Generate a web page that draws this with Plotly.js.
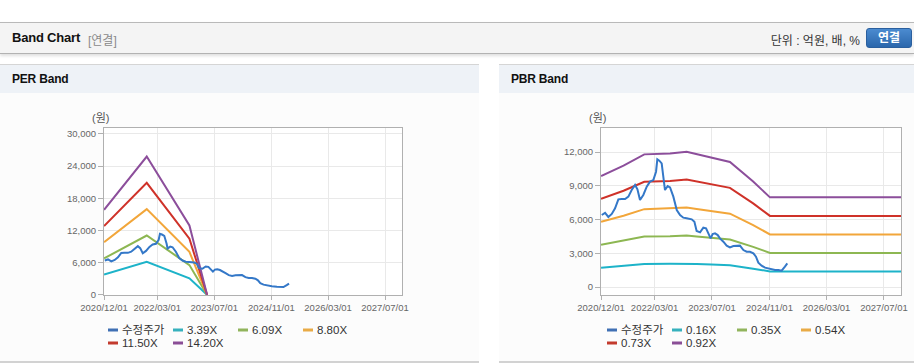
<!DOCTYPE html>
<html><head><meta charset="utf-8">
<script src="https://cdn.plot.ly/plotly-3.0.1.min.js"></script>
<style>
html,body{margin:0;padding:0}
body{width:914px;height:364px;overflow:hidden;background:#fff;position:relative;font-family:"Liberation Sans",Arial,"Noto Sans CJK KR",sans-serif}
#hdr{position:absolute;left:0;top:22px;width:914px;height:30px;background:#f4f4f4;border-top:1px solid #b9b9b9;border-bottom:1px solid #b2b2b2;box-shadow:0 2px 3px rgba(0,0,0,0.13)}
#hdr .t{position:absolute;left:12px;top:7px;font-weight:bold;font-size:13px;color:#111;letter-spacing:-0.2px}
#hdr .s{position:absolute;left:88px;top:8px;font-size:12px;color:#8a8a8a}
#hdr .u{position:absolute;right:54px;top:8px;font-size:12px;color:#333}
#hdr .b{position:absolute;left:866px;top:5px;width:44px;height:18px;border:1px solid #2a5f9e;border-radius:3px;background:linear-gradient(#4b8bd0,#2b67ac);color:#fff;font-weight:bold;font-size:12px;text-align:center;line-height:18px}
.panel{position:absolute;top:64px;height:296px;background:#fcfcfc;border-top:1px solid #d5d5d5;border-bottom:2px solid #d2d2d2}
.panel .bar{position:absolute;left:0;top:0;right:0;height:28px;background:#eef2f7}
.panel .bar span{position:absolute;left:12px;top:7px;font-weight:bold;font-size:12px;color:#111;letter-spacing:-0.2px}
.chart{position:absolute;top:94px;height:268px}
</style>
</head><body>
<div id="hdr"><span class="t">Band Chart</span><span class="s">[연결]</span><span class="u">단위 : 억원, 배, %</span><div class="b">연결</div></div>
<div class="panel" style="left:0;width:479px"><div class="bar"><span>PER Band</span></div></div>
<div class="panel" style="left:499px;width:415px"><div class="bar"><span>PBR Band</span></div></div>
<div id="per" class="chart" style="left:0;width:479px"></div>
<div id="pbr" class="chart" style="left:499px;width:415px"></div>
<script>
// ---- data ----
const priceDates = ['2020-12-07','2021-01-04','2021-02-01','2021-03-02','2021-03-30','2021-04-27','2021-05-25','2021-06-23','2021-07-21','2021-08-18','2021-09-16','2021-10-06','2021-10-28','2021-11-25','2021-12-24','2022-01-21','2022-02-18','2022-03-13','2022-03-24','2022-04-10','2022-04-30','2022-05-20','2022-05-28','2022-06-20','2022-07-10','2022-08-07','2022-09-05','2022-10-03','2022-10-31','2022-11-28','2023-01-10','2023-02-02','2023-02-21','2023-03-22','2023-04-19','2023-05-12','2023-05-31','2023-06-20','2023-07-07','2023-07-27','2023-08-19','2023-09-07','2023-10-06','2023-11-03','2023-12-01','2023-12-30','2024-02-24','2024-03-24','2024-04-21','2024-05-19','2024-06-17','2024-07-09','2024-07-29','2024-08-26','2024-09-24','2024-11-05','2024-12-18','2025-01-15','2025-02-12','2025-03-12','2025-04-01'];
const priceVals = [6410,6600,6230,6500,7000,7800,7830,7830,8040,8630,9080,8700,7740,8190,8930,9380,9520,10260,11360,11240,11000,9520,8630,8990,8870,8040,6850,6400,6170,6110,6020,5810,4980,4860,5280,5220,4830,4330,4710,4770,4620,4330,4030,3680,3530,3650,3680,3290,3140,3140,3000,2700,2170,1900,1720,1600,1510,1510,1450,1810,2100];

const perDates = ['2020-12-01','2021-12-01','2022-12-01','2023-05-01'];
const perEps = [1115,1815,910,0];
const perMultiples = [3.39,6.09,8.80,11.50,14.20];
const perNames = ['수정주가','3.39X','6.09X','8.80X','11.50X','14.20X'];

const pbrDates = ['2020-12-01','2021-06-10','2021-12-03','2022-07-10','2022-11-28','2023-02-21','2023-06-27','2023-09-07','2023-12-01','2024-06-15','2024-11-05','2027-12-31'];
const pbrBps = [10740,11740,12830,12920,13090,12860,12530,12280,12090,10200,8670,8670];
const pbrMultiples = [0.16,0.35,0.54,0.73,0.92];
const pbrNames = ['수정주가','0.16X','0.35X','0.54X','0.73X','0.92X'];

const xTickVals = ['2020-12-01','2022-03-01','2023-07-01','2024-11-01','2026-03-01','2027-07-01'];
const xTickText = ['2020/12/01','2022/03/01','2023/07/01','2024/11/01','2026/03/01','2027/07/01'];

// ---- styling ----
const lineColors = ['#3478c8','#1db3c9','#8db752','#f2a63a','#cf3229','#8c4e9b'];
const legColors  = ['#4070b4','#36b1bd','#91b45c','#e9ab46','#c33b2e','#8a4e96'];
const FONT = '"Liberation Sans", Arial, "Noto Sans CJK KR", sans-serif';

function makeChart(divId, divLeft, W, m, base, baseDates, mults, names, yRange, dtick, legCols, unitX) {
  const H = 268, TOP = 94;
  const pw = W - m.l - m.r, ph = H - m.t - m.b;
  const fx = px => (px - divLeft - m.l) / pw;
  const fy = py => 1 - (py - TOP - m.t) / ph;
  const traces = [];
  mults.forEach((k, i) => {
    traces.push({x: baseDates, y: base.map(v => v * k), type: 'scatter', mode: 'lines',
      line: {color: lineColors[i + 1], width: 2}, name: names[i + 1], hoverinfo: 'skip'});
  });
  traces.push({x: priceDates, y: priceVals, type: 'scatter', mode: 'lines',
    line: {color: lineColors[0], width: 2}, name: names[0], hoverinfo: 'skip'});

  const shapes = [], ann = [];
  const rows = [330, 343];
  names.forEach((n, i) => {
    const c = i % 4, r = Math.floor(i / 4);
    const x0 = legCols[c], y = rows[r];
    shapes.push({type: 'line', xref: 'paper', yref: 'paper', x0: fx(x0), x1: fx(x0 + 10), y0: fy(y), y1: fy(y),
      line: {color: legColors[i], width: 3}});
    ann.push({xref: 'paper', yref: 'paper', x: fx(x0 + 12), y: fy(y), xanchor: 'left', yanchor: 'middle',
      text: n, showarrow: false, font: {family: FONT, size: 11.5, color: '#333'}});
  });
  ann.push({xref: 'paper', yref: 'paper', x: fx(unitX), y: fy(118), xanchor: 'center', yanchor: 'middle',
    text: '(원)', showarrow: false, font: {family: FONT, size: 11, color: '#555'}});

  const layout = {
    width: W, height: H,
    margin: {l: m.l, r: m.r, t: m.t, b: m.b, pad: 0, autoexpand: false},
    paper_bgcolor: 'rgba(0,0,0,0)', plot_bgcolor: '#ffffff',
    showlegend: false,
    font: {family: FONT, size: 9.5, color: '#666'},
    xaxis: {type: 'date', range: ['2020-11-30 12:00', '2027-11-23'], tickvals: xTickVals, ticktext: xTickText,
      showgrid: true, gridcolor: '#e9e9e9', gridwidth: 1, showline: true, linecolor: '#b0b0b0', linewidth: 1, mirror: true,
      ticks: 'outside', ticklen: 4, tickcolor: '#b0b0b0', tickfont: {family: FONT, size: 9.5, color: '#666'}, zeroline: false, fixedrange: true},
    yaxis: {range: yRange, tick0: 0, dtick: dtick, tickformat: ',d',
      showgrid: true, gridcolor: '#e9e9e9', gridwidth: 1, showline: true, linecolor: '#b0b0b0', linewidth: 1, mirror: true,
      ticks: 'outside', ticklen: 5, tickcolor: '#b0b0b0', tickfont: {family: FONT, size: 9.5, color: '#666'}, zeroline: false, fixedrange: true},
    shapes: shapes, annotations: ann
  };
  Plotly.newPlot(divId, traces, layout, {staticPlot: true, displayModeBar: false});
}

makeChart('per', 0, 479, {l: 104, r: 77, t: 34, b: 67}, perEps, perDates, perMultiples, perNames,
  [-30, 31100], 6000, [108, 173, 238, 303], 100);
makeChart('pbr', 499, 415, {l: 102, r: 13, t: 34, b: 67}, pbrBps, pbrDates, pbrMultiples, pbrNames,
  [-712, 14150], 3000, [607, 672, 737, 801], 597);
</script>
</body></html>
